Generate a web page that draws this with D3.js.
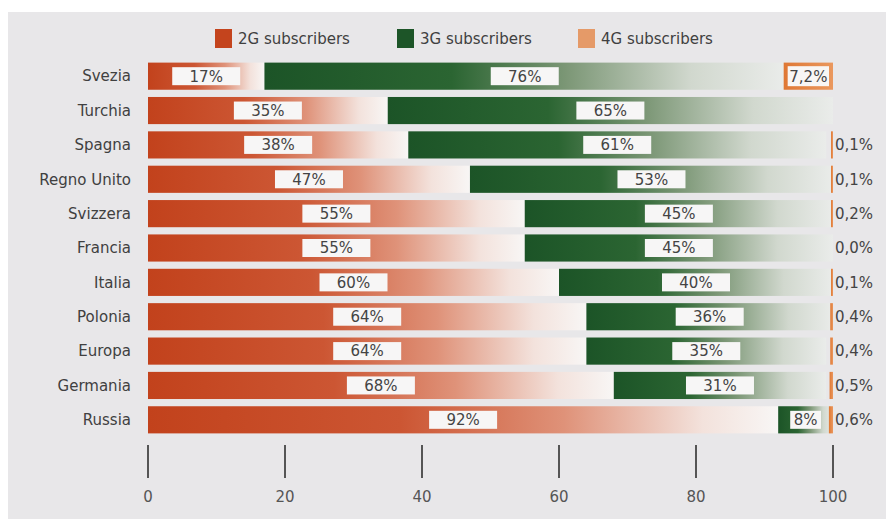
<!DOCTYPE html>
<html lang="it">
<head>
<meta charset="utf-8">
<title>2G / 3G / 4G subscribers</title>
<script src="https://cdn.jsdelivr.net/npm/d3@7"></script>
<style>
  body { margin: 0; background: #fff; }
  svg { display: block; font-family: "DejaVu Sans", Verdana, sans-serif; }
</style>
</head>
<body>
<div id="chart"></div>
<script>
// data
var countries = ["Svezia", "Turchia", "Spagna", "Regno Unito", "Svizzera", "Francia",
                 "Italia", "Polonia", "Europa", "Germania", "Russia"];
var share2G = [17, 35, 38, 47, 55, 55, 60, 64, 64, 68, 92];
var share3G = [76, 65, 61, 53, 45, 45, 40, 36, 35, 31, 8];
var share4G = [7.2, null, 0.1, 0.1, 0.2, 0.0, 0.1, 0.4, 0.4, 0.5, 0.6];
var seriesNames = ["2G subscribers", "3G subscribers", "4G subscribers"];
var xTicks = [0, 20, 40, 60, 80, 100];

var W = 892, H = 519;
var colRed = "#c4441d", colGreen = "#1d5528";
var fs = 15;

var svg = d3.select("#chart").append("svg")
    .attr("width", W).attr("height", H);

// panel
svg.append("rect").attr("x", 0).attr("y", 0).attr("width", W).attr("height", H).attr("fill", "#fff");
svg.append("rect").attr("x", 8).attr("y", 12).attr("width", 878).attr("height", 507).attr("fill", "#e8e7e9");

var defs = svg.append("defs");
function grad(id, stops) {
  var g = defs.append("linearGradient").attr("id", id)
    .attr("x1", "0%").attr("x2", "100%").attr("y1", "0%").attr("y2", "0%");
  stops.forEach(function(s) {
    g.append("stop").attr("offset", s[0]).attr("stop-color", s[1]);
  });
}
grad("g2", [[0, "#c2421c"], [0.4, "#cc5633"], [0.66, "#df9279"], [0.88, "#f3e2dc"], [1, "#f8f6f5"]]);
grad("g3", [[0, "#1c5427"], [0.36, "#2b6532"], [0.58, "#7c9776"], [0.82, "#d1d8ce"], [1, "#eaecea"]]);
grad("g4", [[0, "#df7834"], [1, "#ea985e"]]);

var x = d3.scaleLinear().domain([0, 100]).range([148, 833]);
var y = d3.scaleBand().domain(countries).range([59, 437]).paddingInner(0.21).paddingOuter(0.105);

var rows = countries.map(function(c, i) {
  return { name: c, g2: share2G[i], g3: share3G[i], g4: share4G[i] };
});

function fmt(v, dec) {
  return (dec ? v.toFixed(1) : String(Math.round(v))).replace(".", ",") + "%";
}

// category labels
svg.append("g").selectAll("text").data(rows).enter().append("text")
  .attr("x", 131).attr("y", function(d) { return y(d.name) + y.bandwidth() / 2; })
  .attr("dy", "0.35em").attr("text-anchor", "end")
  .attr("font-size", fs).attr("fill", "#404040")
  .text(function(d) { return d.name; });

var bars = svg.append("g");

// 2G
bars.selectAll(".b2").data(rows).enter().append("rect").attr("class", "b2")
  .attr("x", x(0)).attr("y", function(d) { return y(d.name); })
  .attr("width", function(d) { return x(d.g2) - x(0); })
  .attr("height", y.bandwidth()).attr("fill", "url(#g2)");

// 3G
bars.selectAll(".b3").data(rows).enter().append("rect").attr("class", "b3")
  .attr("x", function(d) { return x(d.g2); }).attr("y", function(d) { return y(d.name); })
  .attr("width", function(d) { return x(d.g2 + d.g3) - x(d.g2); })
  .attr("height", y.bandwidth()).attr("fill", "url(#g3)");

// 4G (thin marks near 100)
var rows4 = rows.filter(function(d) { return d.g4 !== null && d.g4 > 0; });
bars.selectAll(".b4").data(rows4).enter().append("rect").attr("class", "b4")
  .attr("x", function(d) { return Math.min(x(100 - d.g4), x(100) - 2); })
  .attr("y", function(d) { return y(d.name); })
  .attr("width", function(d) { return Math.max(x(100) - x(100 - d.g4), 2); })
  .attr("height", y.bandwidth()).attr("fill", "url(#g4)");

// value boxes
function valueBox(sel, cls, startF, valF) {
  function bw(d) { return Math.min(68, x(startF(d) + valF(d)) - x(startF(d)) - 24); }
  var g = sel.selectAll("." + cls).data(rows).enter().append("g").attr("class", cls)
    .attr("transform", function(d) {
      var cx = (x(startF(d)) + x(startF(d) + valF(d))) / 2;
      return "translate(" + cx + "," + (y(d.name) + y.bandwidth() / 2) + ")";
    });
  g.append("rect")
    .attr("x", function(d) { return -bw(d) / 2; })
    .attr("width", bw)
    .attr("y", -9).attr("height", 18).attr("fill", "#f7f6f6");
  g.append("text").attr("text-anchor", "middle").attr("dy", "0.36em")
    .attr("font-size", fs).attr("fill", "#444")
    .text(function(d) { return fmt(valF(d), false); });
}
valueBox(bars, "l2", function() { return 0; }, function(d) { return d.g2; });
valueBox(bars, "l3", function(d) { return d.g2; }, function(d) { return d.g3; });

// 4G labels: inside the bar when wide enough, else right of the axis end
rows.forEach(function(d) {
  if (d.g4 === null) return;
  var cy = y(d.name) + y.bandwidth() / 2;
  if (x(100) - x(100 - d.g4) > 40) {
    bars.append("rect").attr("x", x(100 - d.g4) + 4).attr("y", cy - 10)
      .attr("width", x(100) - x(100 - d.g4) - 8).attr("height", 20).attr("fill", "#f8f6f4");
    bars.append("text").attr("x", (x(100) + x(100 - d.g4)) / 2).attr("y", cy)
      .attr("dy", "0.36em").attr("text-anchor", "middle")
      .attr("font-size", fs).attr("fill", "#444").text(fmt(d.g4, true));
  } else {
    bars.append("text").attr("x", x(100) + 2).attr("y", cy)
      .attr("dy", "0.36em").attr("font-size", fs).attr("fill", "#444").text(fmt(d.g4, true));
  }
});

// axis
var axis = svg.append("g");
axis.selectAll("line").data(xTicks).enter().append("line")
  .attr("x1", function(d) { return x(d); }).attr("x2", function(d) { return x(d); })
  .attr("y1", 445).attr("y2", 478).attr("stroke", "#555").attr("stroke-width", 2);
axis.selectAll("text").data(xTicks).enter().append("text")
  .attr("x", function(d) { return x(d); }).attr("y", 497).attr("dy", "0.35em")
  .attr("text-anchor", "middle").attr("font-size", fs).attr("fill", "#555")
  .text(function(d) { return d; });

// legend
var legX = [215, 397, 578], legCol = [colRed, colGreen, "#e59a68"];
var leg = svg.append("g").selectAll("g").data(seriesNames).enter().append("g")
  .attr("transform", function(d, i) { return "translate(" + legX[i] + ",29)"; });
leg.append("rect").attr("width", 17).attr("height", 19)
  .attr("fill", function(d, i) { return legCol[i]; });
leg.append("text").attr("x", 23).attr("y", 10).attr("dy", "0.35em")
  .attr("font-size", fs).attr("fill", "#404040").text(function(d) { return d; });
</script>
</body>
</html>
